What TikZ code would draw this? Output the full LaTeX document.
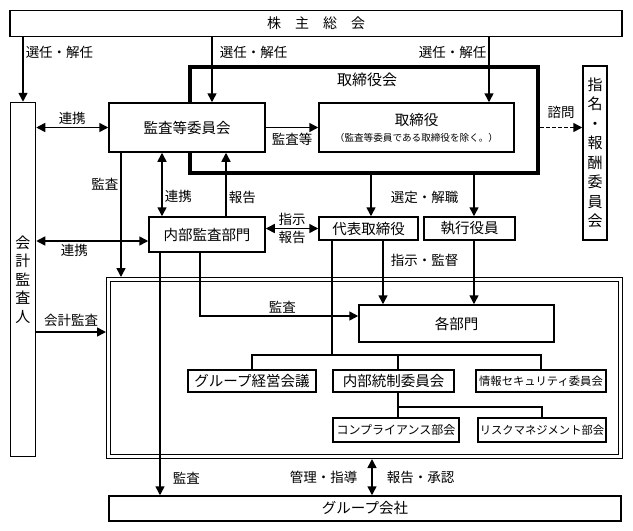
\documentclass[tikz,border=0pt]{standalone}
\usepackage{fontspec}
\setmainfont{Noto Sans CJK JP}
\usepackage{tikz}
\usetikzlibrary{arrows.meta}
\tikzset{box/.style={draw, fill=white, line width=1.5pt, inner sep=0pt,
  font=\fontsize{14.5}{17}\selectfont},
  arr/.style={line width=1.5pt, -{Triangle[length=9pt,width=9pt]}},
  darr/.style={line width=1.5pt, {Triangle[length=9pt,width=9pt]}-{Triangle[length=9pt,width=9pt]}},
  ln/.style={line width=1.5pt},
  lbl/.style={font=\fontsize{13.5}{16}\selectfont, inner sep=2pt}}

\begin{document}
\begin{tikzpicture}[x=1pt,y=-1pt]
\useasboundingbox (0,0) rectangle (633,531);

\node[box, minimum width=612pt, minimum height=26pt, font=\fontsize{14}{17}\selectfont] (soukai) at (316,23.5) {株　主　総　会};
\node[box, minimum width=25pt, minimum height=354pt, align=center, font=\fontsize{15}{18.5}\selectfont] (kaikei) at (23,279.5) {会\\計\\監\\査\\人};
\node[draw, line width=4pt, minimum width=348pt, minimum height=106pt] (torikai) at (364,120) {};
\node[font=\fontsize{15}{17}\selectfont] (torikailbl) at (367,80) {取締役会};
\node[box, minimum width=156pt, minimum height=49pt] (kansa) at (187,127.5) {監査等委員会};
\node[box, minimum width=195pt, minimum height=49pt, align=center] (tori) at (416.5,127.5) {取締役\\[-1pt]{\fontsize{9.6}{11}\selectfont （監査等委員である取締役を除く。）}};
\node[box, minimum width=24pt, minimum height=174pt, align=center, font=\fontsize{15}{19.5}\selectfont] (shimei) at (595,153) {指\\名\\・\\報\\酬\\委\\員\\会};
\node[box, minimum width=116pt, minimum height=35pt] (naibu) at (207,234.5) {内部監査部門};
\node[box, minimum width=99pt, minimum height=23pt] (daihyo) at (368.5,228.5) {代表取締役};
\node[box, minimum width=91pt, minimum height=23pt] (shikko) at (469.5,228.5) {執行役員};
\node[draw, line width=1.3pt, double, double distance=2.4pt, outer sep=2.5pt, minimum width=512pt, minimum height=177pt] (group) at (364.5,368) {};
\node[box, minimum width=195pt, minimum height=37pt] (kakubu) at (456.5,323.5) {各部門};
\node[box, minimum width=128pt, minimum height=22pt] (gkeiei) at (252,381) {グループ経営会議};
\node[box, minimum width=121pt, minimum height=22pt] (naitou) at (393.5,381) {内部統制委員会};
\node[box, minimum width=130pt, minimum height=22pt, font=\fontsize{11.3}{13}\selectfont] (joho) at (541,381) {情報セキュリティ委員会};
\node[box, minimum width=126pt, minimum height=24pt, font=\fontsize{12}{14}\selectfont] (comp) at (396,430) {コンプライアンス部会};
\node[box, minimum width=128pt, minimum height=24pt, font=\fontsize{11.3}{13}\selectfont] (risk) at (542,430) {リスクマネジメント部会};
\node[box, minimum width=512pt, minimum height=25pt] (gkaisha) at (365,508.5) {グループ会社};

\path ([xshift=25pt]kansa.north) coordinate (kn);
\path ([xshift=72.5pt]tori.north) coordinate (tn);
\draw[arr] (kaikei.north |- soukai.south) -- node[lbl, pos=.23, right] (sen1) {選任・解任} (kaikei.north);
\draw[arr] (kn |- soukai.south) -- node[lbl, pos=.23, right, xshift=5pt] (sen2) {選任・解任} (kn);
\draw[arr] (tn |- soukai.south) -- node[lbl, pos=.23, left] (sen3) {選任・解任} (tn);

\draw[arr] (kansa.east) -- node[lbl, below, yshift=-3pt] (kansatou) {監査等} (tori.west);
\draw[arr, dash pattern=on 4pt off 2pt] (torikai.east |- tori.east) -- node[lbl, above, yshift=6pt] (shimon) {諮問} (shimei.west |- tori.east);
\draw[darr] (kaikei.east |- kansa.west) -- node[lbl, above] (renkei1) {連携} (kansa.west);

\path ([xshift=-66pt]kansa.south) coordinate (ks);
\draw[arr] (ks) -- node[lbl, pos=.25, left] (kansa1) {監査} (ks |- group.north);
\path ([xshift=-45pt]naibu.north) coordinate (nn1);
\draw[darr] (nn1 |- kansa.south) -- node[lbl, pos=.68, right] (renkei2) {連携} (nn1);
\path ([xshift=19pt]naibu.north) coordinate (nn2);
\draw[arr] (nn2) -- node[lbl, pos=.3, right] (houkoku1) {報告} (nn2 |- kansa.south);
\path ([yshift=-6.5pt]naibu.west) coordinate (nw);
\draw[darr] (kaikei.east |- nw) -- node[lbl, pos=.34, below] (renkei3) {連携} (nw);
\draw[darr] (naibu.east |- daihyo.west) -- node[lbl, above] (shiji) {指示} node[lbl, below] (houkoku2) {報告} (daihyo.west);

\path ([xshift=2.5pt]daihyo.north) coordinate (dn);
\draw[arr] (dn |- torikai.south) -- node[lbl, pos=.54, right, xshift=17pt] (sentei) {選定・解職} (dn);
\path ([xshift=4.5pt]shikko.north) coordinate (sn);
\draw[arr] (sn |- torikai.south) -- (sn);
\path ([xshift=14.5pt]daihyo.south) coordinate (ds);
\draw[arr] (ds) -- node[lbl, pos=.31, right, xshift=5pt] (shijikan) {指示・監督} (ds |- kakubu.north);
\path ([xshift=4.5pt]shikko.south) coordinate (ss);
\draw[arr] (ss) -- (ss |- kakubu.north);

\path ([xshift=-7pt]naibu.south) coordinate (ns1);
\path ([yshift=7.5pt]kakubu.west) coordinate (kw);
\draw[arr] (ns1) |- node[lbl, pos=.76, above] (kansa2) {監査} (kw);
\path ([yshift=36pt]group.west) coordinate (gw);
\draw[arr] (kaikei.east |- gw) -- node[lbl, above, yshift=3pt] (kaikeikansa) {会計監査} (gw);
\path ([xshift=-47pt]naibu.south) coordinate (ns2);
\draw[arr] (ns2) -- node[lbl, pos=.93, right, xshift=10pt] (kansa3) {監査} (ns2 |- gkaisha.north);

\coordinate (br1) at (332,355);
\draw[ln] ([xshift=-36.5pt]daihyo.south) -- (br1);
\draw[ln] (gkeiei.north) |- (br1) -| (joho.north);
\path ([xshift=4.5pt]naitou.north) coordinate (nt);
\draw[ln] (nt |- br1) -- (nt);
\path ([xshift=4.5pt]naitou.south) coordinate (nts);
\path (nts) ++(0,14) coordinate (br2);
\draw[ln] (nts) -- (nts |- comp.north);
\draw[ln] (br2) -| (risk.north);

\path ([xshift=7.5pt]group.south) coordinate (gs);
\draw[darr] (gs) -- node[lbl, left, xshift=-12pt] (kanri) {管理・指導} node[lbl, right, xshift=12pt] (shonin) {報告・承認} (gs |- gkaisha.north);

\end{tikzpicture}
\end{document}
